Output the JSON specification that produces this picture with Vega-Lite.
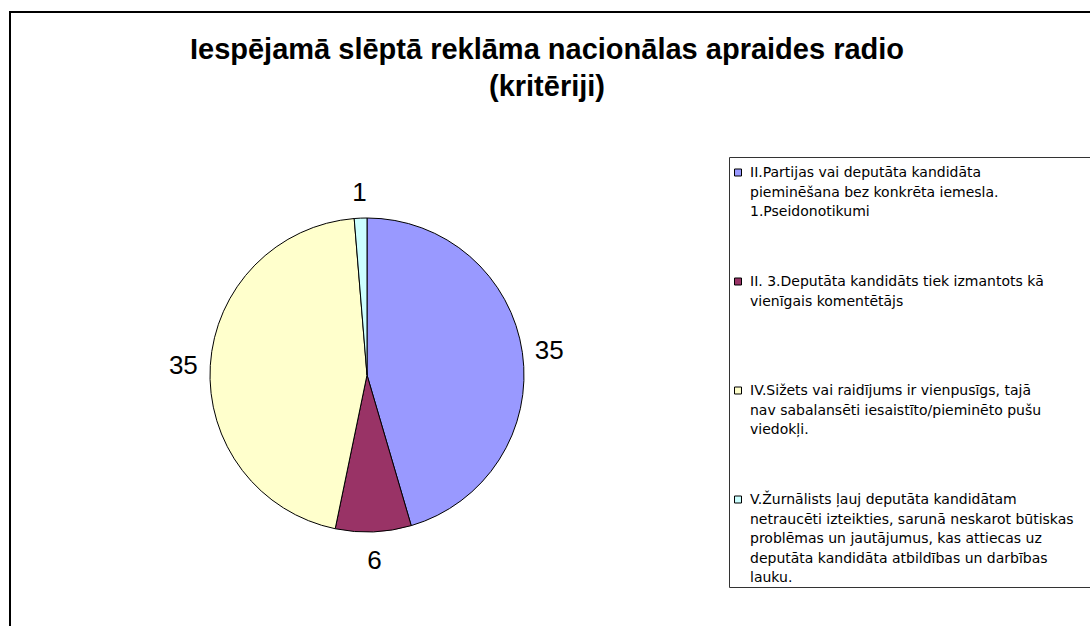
{
  "$schema": "https://vega.github.io/schema/vega-lite/v6.json",
  "width": 1100,
  "height": 634,
  "autosize": {"type": "none"},
  "padding": {"left": 10, "top": 12, "right": -20, "bottom": -20},
  "background": "white",
  "view": {"stroke": "black", "strokeWidth": 2},
  "title": {
    "text": ["Iespējamā slēptā reklāma nacionālas apraides radio", "(kritēriji)"],
    "anchor": "middle",
    "baseline": "top",
    "offset": 0,
    "dy": 90,
    "dx": -13,
    "font": "Liberation Sans",
    "fontSize": 29,
    "fontWeight": "bold",
    "lineHeight": 37,
    "color": "black"
  },
  "data": {
    "values": [
      {"criterion": "II.Partijas vai deputāta kandidāta|pieminēšana bez konkrēta iemesla.|1.Pseidonotikumi", "count": 35, "order": 1},
      {"criterion": "II. 3.Deputāta kandidāts tiek izmantots kā|vienīgais komentētājs", "count": 6, "order": 2},
      {"criterion": "IV.Sižets vai raidījums ir vienpusīgs, tajā|nav sabalansēti iesaistīto/pieminēto pušu|viedokļi.", "count": 35, "order": 3},
      {"criterion": "V.Žurnālists ļauj deputāta kandidātam|netraucēti izteikties, sarunā neskarot būtiskas        \u200b|problēmas un jautājumus, kas attiecas uz|deputāta kandidāta atbildības un darbības|lauku.", "count": 1, "order": 4}
    ]
  },
  "encoding": {
    "theta": {"field": "count", "type": "quantitative", "stack": true},
    "order": {"field": "order", "type": "quantitative"}
  },
  "layer": [
    {
      "mark": {"type": "arc", "x": 357, "y": 363, "outerRadius": 157, "stroke": "black", "strokeWidth": 1},
      "encoding": {
        "color": {
          "field": "criterion",
          "type": "nominal",
          "sort": {"field": "order"},
          "scale": {"range": ["#9999FF", "#993366", "#FFFFCC", "#CCFFFF"]},
          "legend": {
            "title": null,
            "orient": "none",
            "legendX": 719,
            "legendY": 145,
            "direction": "vertical",
            "padding": 2,
            "fillColor": "white",
            "strokeColor": "#333333",
            "symbolType": "M-1,0.86H1V2.86H-1Z",
            "symbolSize": 49,
            "symbolStrokeColor": "black",
            "symbolStrokeWidth": 1,
            "symbolOffset": 0,
            "labelFont": "DejaVu Sans",
            "labelFontSize": 14,
            "labelColor": "black",
            "labelLimit": 1000,
            "labelOffset": 5,
            "labelBaseline": "top",
            "labelExpr": "split(datum.label, '|')",
            "gridAlign": "all",
            "rowPadding": 10,
            "encode": {"labels": {"update": {"lineHeight": {"value": 19.5}}}}
          }
        }
      }
    },
    {
      "mark": {"type": "text", "x": 357, "y": 365, "radius": 184, "fontSize": 26, "font": "Liberation Sans", "color": "black", "align": "center", "baseline": "middle"},
      "encoding": {"text": {"field": "count", "type": "quantitative"}}
    }
  ]
}
